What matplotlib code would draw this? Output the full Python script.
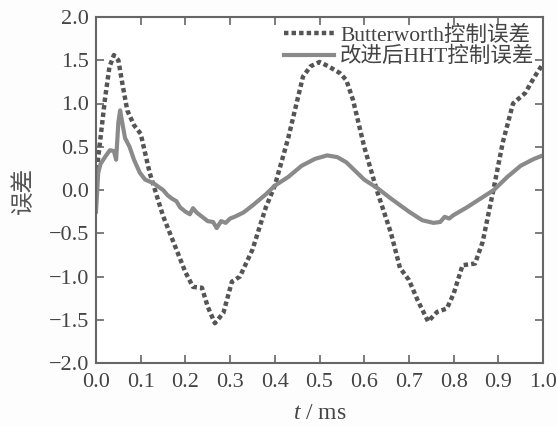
import numpy as np
import matplotlib.pyplot as plt
from matplotlib.ticker import FuncFormatter

plt.rcParams['font.family'] = ['Liberation Serif', 'Noto Sans CJK SC']
plt.rcParams['mathtext.fontset'] = 'custom'
plt.rcParams['mathtext.it'] = 'Liberation Serif:italic'
plt.rcParams['mathtext.rm'] = 'Liberation Serif'

# Butterworth control error
t_bw = [0.0, 0.01, 0.02, 0.03, 0.04, 0.05, 0.06, 0.07, 0.085, 0.1, 0.12, 0.15,
        0.18, 0.2, 0.217, 0.237, 0.25, 0.266, 0.285, 0.304, 0.322, 0.35, 0.38,
        0.4, 0.43, 0.463, 0.48, 0.5, 0.52, 0.546, 0.56, 0.575, 0.6, 0.628,
        0.66, 0.68, 0.7, 0.72, 0.743, 0.763, 0.785, 0.8, 0.82, 0.848, 0.865,
        0.889, 0.91, 0.933, 0.96, 0.98, 1.0]
e_bw = [0.15, 0.6, 1.05, 1.42, 1.56, 1.5, 1.2, 0.92, 0.75, 0.65, 0.2, -0.3,
        -0.69, -0.95, -1.12, -1.13, -1.35, -1.54, -1.42, -1.06, -1.0, -0.69, -0.2,
        0.05, 0.6, 1.31, 1.43, 1.48, 1.43, 1.35, 1.27, 1.04, 0.5, 0.0,
        -0.5, -0.9, -1.04, -1.28, -1.52, -1.41, -1.37, -1.2, -0.87, -0.85, -0.6,
        0.0, 0.55, 1.0, 1.12, 1.3, 1.46]

# improved HHT control error
t_hht = [0.0, 0.005, 0.01, 0.02, 0.031, 0.04, 0.045, 0.05, 0.054, 0.058, 0.065,
         0.075, 0.085, 0.098, 0.11, 0.128, 0.15, 0.16, 0.17, 0.18, 0.188, 0.2,
         0.21, 0.217, 0.225, 0.235, 0.25, 0.262, 0.27, 0.28, 0.29, 0.3, 0.31,
         0.33, 0.35, 0.38, 0.4, 0.43, 0.46, 0.49, 0.517, 0.54, 0.56, 0.6, 0.63,
         0.66, 0.7, 0.73, 0.755, 0.77, 0.78, 0.79, 0.8, 0.83, 0.86, 0.89, 0.92,
         0.95, 0.98, 1.0]
e_hht = [-0.25, 0.2, 0.3, 0.38, 0.46, 0.45, 0.35, 0.78, 0.92, 0.8, 0.6,
         0.5, 0.35, 0.2, 0.12, 0.08, 0.0, -0.06, -0.1, -0.13, -0.2, -0.25,
         -0.28, -0.21, -0.26, -0.3, -0.36, -0.37, -0.44, -0.36, -0.38, -0.33, -0.31,
         -0.26, -0.18, -0.05, 0.05, 0.15, 0.28, 0.36, 0.4, 0.38, 0.32, 0.12, 0.02,
         -0.1, -0.25, -0.35, -0.38, -0.37, -0.31, -0.33, -0.29, -0.2, -0.1, 0.0, 0.15,
         0.28, 0.36, 0.4]


def fmt(v, pos):
    return ('%.1f' % v).replace('-', '\u2212')


fig = plt.figure(figsize=(5.57, 4.26), dpi=100)
fig.patch.set_facecolor('#fdfdfd')
ax = fig.add_axes([96 / 557, 1 - 363 / 426, 447 / 557, 346 / 426])

ax.plot(t_bw, e_bw, color='#555555', linestyle=(0, (1.0, 0.7)), linewidth=3.2,
        label='Butterworth控制误差')
ax.plot(t_hht, e_hht, color='#8a8a8a', linestyle='-', linewidth=3.0,
        label='改进后HHT控制误差')

ax.set_xlim(0, 1)
ax.set_ylim(-2, 2)
ax.set_xticks(np.arange(0, 1.01, 0.1))
ax.set_yticks(np.arange(-2, 2.01, 0.5))
ax.xaxis.set_major_formatter(FuncFormatter(fmt))
ax.yaxis.set_major_formatter(FuncFormatter(fmt))
ax.tick_params(direction='in', top=True, right=True, length=6, width=1.2,
               color='#666666', labelsize=16, labelcolor='#444444')
ax.tick_params(axis='x', pad=7)
ax.tick_params(axis='y', pad=5)
for s in ax.spines.values():
    s.set_color('#666666')
    s.set_linewidth(1.5)

ax.set_xlabel('$t$ / ms', fontsize=17, color='#444444', labelpad=8)
ax.set_ylabel('误差', fontsize=17, color='#555555', labelpad=10)

ax.legend(loc='upper right', frameon=False, fontsize=15.5, handlelength=2.3,
          handletextpad=0.3, borderaxespad=0.0, labelspacing=0.05,
          labelcolor='#444444')

fig.savefig('out.png', dpi=100, facecolor=fig.get_facecolor())
